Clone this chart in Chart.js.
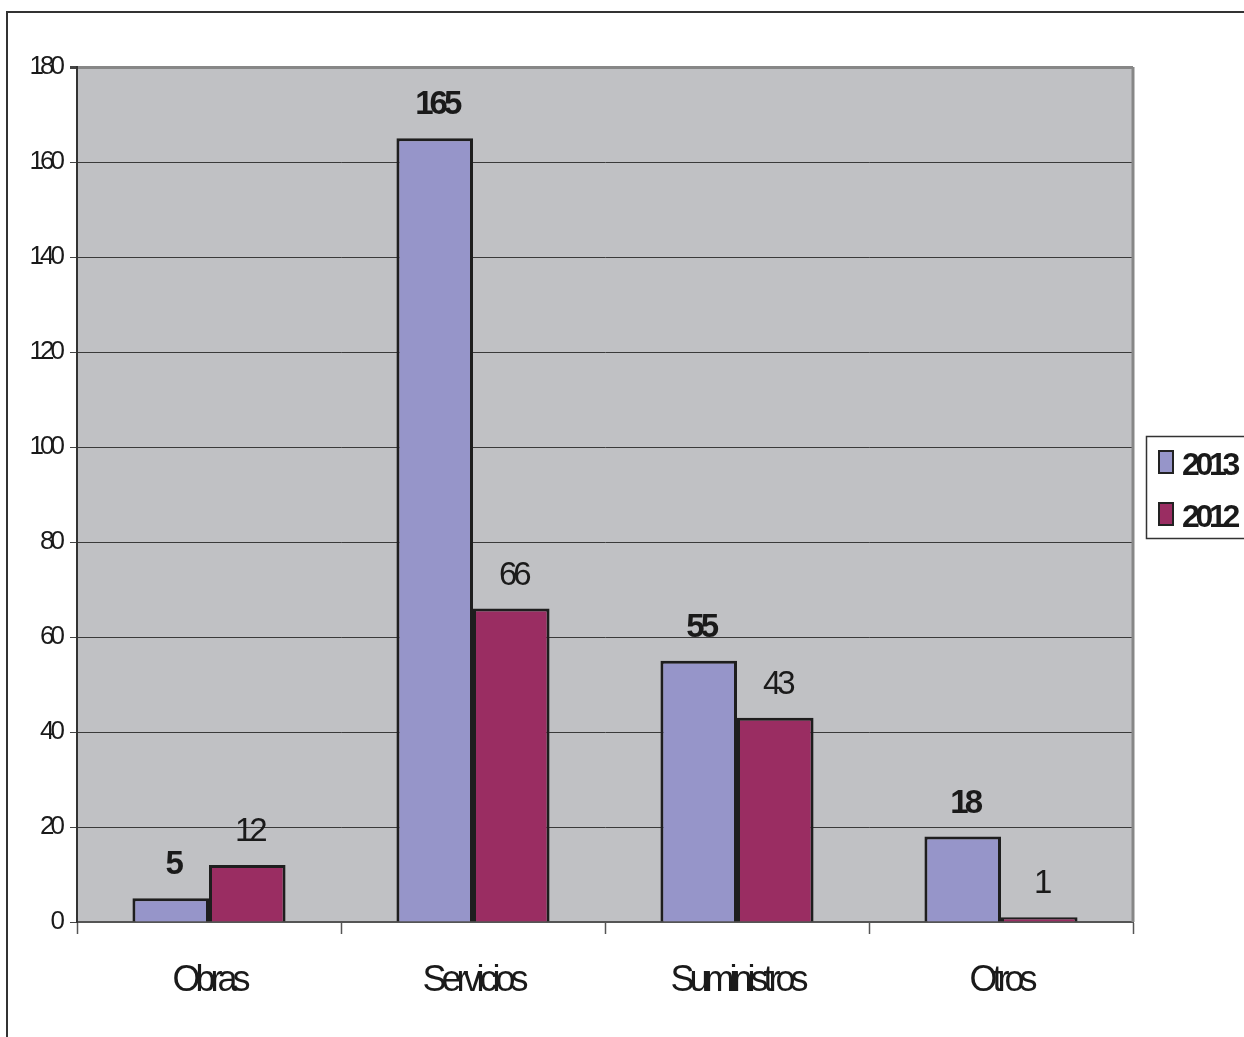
<!DOCTYPE html>
<html>
<head>
<meta charset="utf-8">
<script src="https://cdn.jsdelivr.net/npm/chart.js@4/dist/chart.umd.min.js"></script>
<style>
  html, body { margin: 0; padding: 0; background: #fff; }
  #wrap { width: 1244px; height: 1037px; }
</style>
</head>
<body>
<div id="wrap"><canvas id="chart" width="1244" height="1037"></canvas></div>
<script>
// categorias y valores por año
const categorias = ["Obras", "Servicios", "Suministros", "Otros"];
const valores2013 = [5, 165, 55, 18];
const valores2012 = [12, 66, 43, 1];
const ticksY = [0, 20, 40, 60, 80, 100, 120, 140, 160, 180];

const FONT = "'Liberation Sans', Arial, sans-serif";

// fondo blanco, marco exterior y fondo gris del área de trazado
const fondo = {
    id: "fondo",
    beforeDraw(chart) {
        const ctx = chart.ctx;
        const a = chart.chartArea;
        ctx.save();
        ctx.fillStyle = "#fff";
        ctx.fillRect(0, 0, chart.width, chart.height);
        ctx.strokeStyle = "#333";
        ctx.lineWidth = 2;
        ctx.strokeRect(7, 12, 3000, 3000);
        ctx.fillStyle = "#c0c1c4";
        ctx.fillRect(a.left, a.top, a.right - a.left, a.bottom - a.top);
        ctx.restore();
        // etiquetas del eje Y apretadas
        ctx.letterSpacing = "-4px";
    },
    afterDatasetsDraw(chart) {
        const ctx = chart.ctx;
        const a = chart.chartArea;
        // borde derecho gris
        ctx.save();
        ctx.strokeStyle = "#878787";
        ctx.lineWidth = 3;
        ctx.beginPath();
        ctx.moveTo(a.right, a.top);
        ctx.lineTo(a.right, a.bottom);
        ctx.stroke();
        ctx.restore();

        // valores encima de cada barra
        chart.data.datasets.forEach((ds, i) => {
            const meta = chart.getDatasetMeta(i);
            meta.data.forEach((bar, j) => {
                ctx.save();
                ctx.letterSpacing = "-4px";
                ctx.font = (i === 0 ? "bold " : "") + "33px " + FONT;
                ctx.fillStyle = "#1a1a1a";
                ctx.textAlign = "center";
                ctx.textBaseline = "alphabetic";
                ctx.fillText(String(ds.data[j]), bar.x + 2, bar.y - 24);
                ctx.restore();
            });
        });
        // etiquetas del eje X (se dibujan después, z = 1)
        ctx.letterSpacing = "-5px";
    },
    afterDraw(chart) {
        const ctx = chart.ctx;
        ctx.letterSpacing = "0px";
        // leyenda a la derecha
        ctx.save();
        ctx.fillStyle = "#fff";
        ctx.strokeStyle = "#333";
        ctx.lineWidth = 1.5;
        ctx.fillRect(1146, 436, 200, 102);
        ctx.strokeRect(1146.5, 436.5, 200, 102);
        const items = chart.data.datasets;
        items.forEach((ds, i) => {
            const y = 451 + i * 52;
            ctx.fillStyle = ds.backgroundColor;
            ctx.fillRect(1159, y, 14, 22);
            ctx.strokeStyle = "#222";
            ctx.lineWidth = 2;
            ctx.strokeRect(1159, y, 14, 22);
            ctx.letterSpacing = "-4.3px";
            ctx.font = "bold 32px " + FONT;
            ctx.fillStyle = "#1a1a1a";
            ctx.textAlign = "left";
            ctx.textBaseline = "alphabetic";
            ctx.fillText(ds.label, 1182, y + 24);
        });
        ctx.restore();
        ctx.letterSpacing = "0px";
    }
};

new Chart(document.getElementById("chart"), {
    type: "bar",
    data: {
        labels: categorias,
        datasets: [
            {
                label: "2013",
                data: valores2013,
                backgroundColor: "#9695c9",
                borderColor: "#1e1e1e",
                borderWidth: 3,
                borderSkipped: "bottom"
            },
            {
                label: "2012",
                data: valores2012,
                backgroundColor: "#9a2d62",
                borderColor: "#1e1e1e",
                borderWidth: 3,
                borderSkipped: "bottom"
            }
        ]
    },
    options: {
        responsive: false,
        animation: false,
        events: [],
        layout: { padding: { top: 67, right: 111, bottom: 0, left: 0 } },
        datasets: {
            bar: { categoryPercentage: 0.58, barPercentage: 1.0 }
        },
        plugins: {
            legend: { display: false },
            tooltip: { enabled: false }
        },
        scales: {
            x: {
                afterFit: s => { s.height = 115; },
                grid: {
                    offset: true,
                    drawOnChartArea: false,
                    drawTicks: true,
                    tickLength: 12,
                    tickColor: "#555",
                    tickWidth: 1.5
                },
                border: { color: "#555", width: 2 },
                ticks: {
                    z: 1,
                    padding: 25,
                    maxRotation: 0,
                    autoSkip: false,
                    color: "#1a1a1a",
                    font: { family: FONT, size: 36 }
                }
            },
            y: {
                min: 0,
                max: 180,
                afterFit: s => { s.width = 77; },
                afterBuildTicks: s => { s.ticks = ticksY.map(v => ({ value: v })); },
                grid: {
                    color: ctx => ctx.tick && ctx.tick.value === 180 ? "#878787" : "#3a3a3a",
                    lineWidth: ctx => ctx.tick && ctx.tick.value === 180 ? 3 : 1,
                    tickLength: 7,
                    tickColor: "#444"
                },
                border: { color: "#333", width: 2 },
                ticks: {
                    padding: 9,
                    color: "#1a1a1a",
                    font: { family: FONT, size: 26 }
                }
            }
        }
    },
    plugins: [fondo]
});
</script>
</body>
</html>
